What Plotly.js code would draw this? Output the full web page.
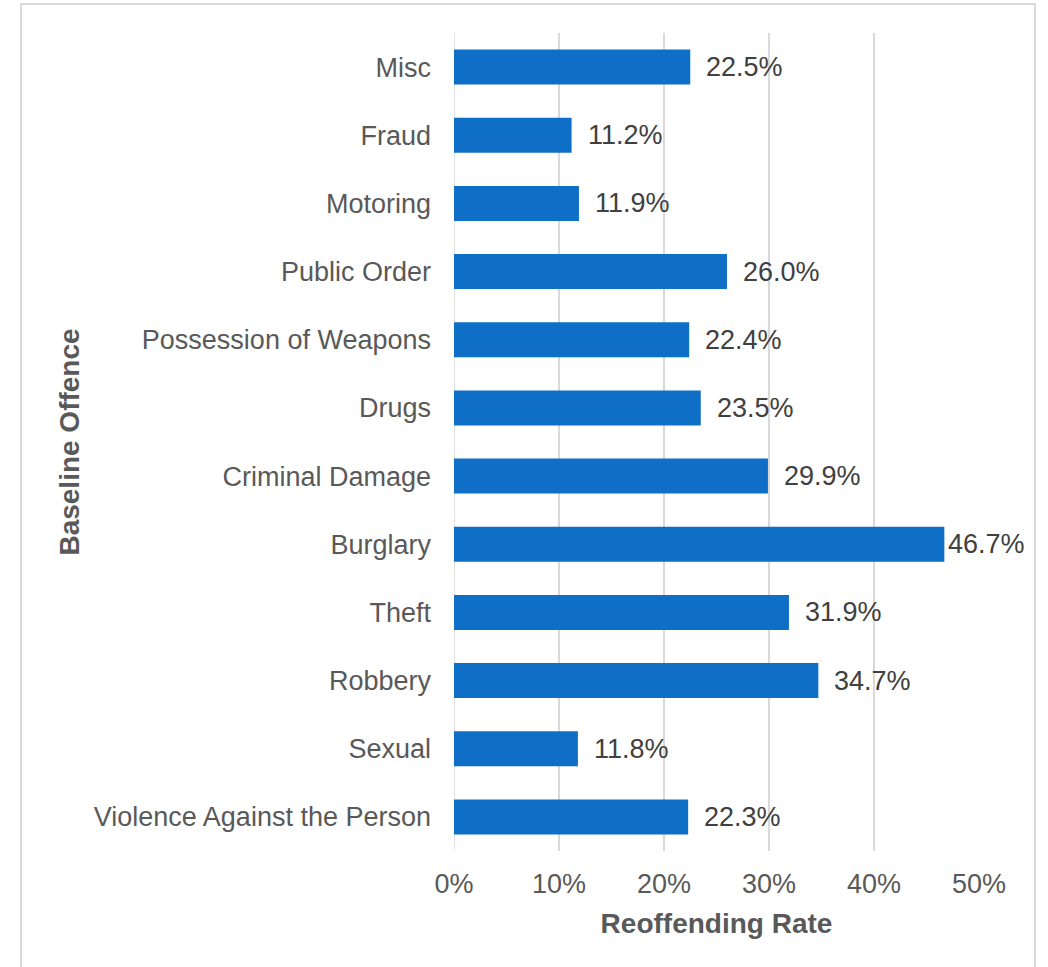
<!DOCTYPE html>
<html>
<head>
<meta charset="utf-8">
<script src="https://cdn.plot.ly/plotly-3.0.1.min.js"></script>
<style>
  html, body { margin: 0; padding: 0; background: #ffffff; }
  #wrap { position: relative; width: 1048px; height: 967px; overflow: hidden; }
  #chart { width: 1048px; height: 967px; }
  #frame { position: absolute; left: 20px; top: 3px; width: 1016px; height: 1000px;
           border: 2px solid #d9d9d9; pointer-events: none; box-sizing: border-box; }
</style>
</head>
<body>
<div id="wrap">
  <div id="chart"></div>
  <div id="frame"></div>
</div>
<script>
// Categories, bottom to top
const offences = [
  "Violence Against the Person",
  "Sexual",
  "Robbery",
  "Theft",
  "Burglary",
  "Criminal Damage",
  "Drugs",
  "Possession of Weapons",
  "Public Order",
  "Motoring",
  "Fraud",
  "Misc"
];
// Reoffending rate (%)
const rates = [22.3, 11.8, 34.7, 31.9, 46.7, 29.9, 23.5, 22.4, 26.0, 11.9, 11.2, 22.5];
const xTickVals = [0, 10, 20, 30, 40, 50];
const xTickText = ["0%", "10%", "20%", "30%", "40%", "50%"];

const FONT = '"Liberation Sans", Arial, sans-serif';

const labels = rates.map((v, i) => ({
  x: v,
  y: offences[i],
  xref: 'x', yref: 'y',
  text: v.toFixed(1) + '%',
  showarrow: false,
  xanchor: 'left',
  yanchor: 'middle',
  xshift: v > 45 ? 2 : 14,
  font: { family: FONT, size: 27, color: '#404040' }
}));

const trace = {
  type: 'bar',
  orientation: 'h',
  x: rates,
  y: offences,
  marker: { color: '#0F6FC6' },
  hoverinfo: 'x+y'
};

const layout = {
  width: 1048,
  height: 967,
  margin: { l: 454, r: 69, t: 33, b: 116 },
  paper_bgcolor: '#ffffff',
  plot_bgcolor: '#ffffff',
  bargap: 0.487,
  showlegend: false,
  font: { family: FONT, color: '#595959' },
  xaxis: {
    range: [0, 50],
    tickvals: xTickVals,
    ticktext: xTickText,
    showgrid: true,
    gridcolor: '#d9d9d9',
    gridwidth: 1.5,
    zeroline: false,
    showline: false,
    ticks: '',
    ticklabelstandoff: 14,
    tickfont: { family: FONT, size: 27, color: '#595959' },
    title: { text: 'Reoffending Rate', standoff: 15,
             font: { family: FONT, size: 28, color: '#595959', weight: 'bold' } },
    fixedrange: true
  },
  yaxis: {
    type: 'category',
    categoryorder: 'array',
    categoryarray: offences,
    showgrid: false,
    zeroline: false,
    showline: false,
    ticks: '',
    ticklabelstandoff: 22,
    tickfont: { family: FONT, size: 27, color: '#595959' },
    title: { text: 'Baseline Offence', standoff: 5,
             font: { family: FONT, size: 28, color: '#595959', weight: 'bold' } },
    fixedrange: true
  },
  shapes: [{
    type: 'line', xref: 'x', yref: 'paper',
    x0: 0, x1: 0, y0: 0, y1: 1,
    line: { color: '#d9d9d9', width: 1.5 },
    layer: 'below'
  }],
  annotations: labels
};

Plotly.newPlot('chart', [trace], layout, { displayModeBar: false, staticPlot: true });
</script>
</body>
</html>
